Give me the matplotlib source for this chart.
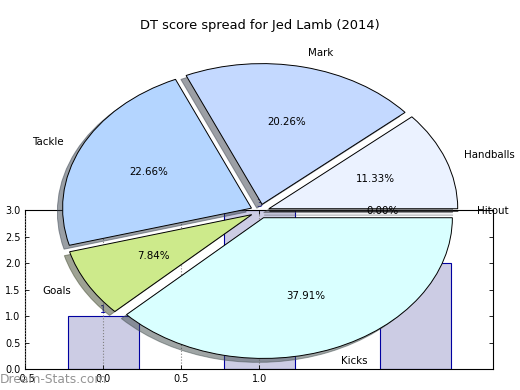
import numpy as np
import matplotlib
matplotlib.use("Agg")
import matplotlib.pyplot as plt

# pie data
slice_labels = ['Hitout', 'Handballs', 'Mark', 'Tackle', 'Goals', 'Kicks']
slice_pcts = [0.00, 11.33, 20.26, 22.66, 7.84, 37.91]
slice_colors = ['#eef4ff', '#ebf2ff', '#c4d9ff', '#b4d5ff', '#cdea8b', '#d9ffff']

# leftover bar chart underneath
bar_x = [0, 1, 2]
bar_heights = [1, 3, 2]
bar_texts = ['1', '3', '2']
xtick_vals = [-0.5, 0.0, 0.5, 1.0]
ytick_vals = [0.0, 0.5, 1.0, 1.5, 2.0, 2.5, 3.0]

title = 'DT score spread for Jed Lamb (2014)'
watermark = 'Dream-Stats.com'

fig = plt.figure(figsize=(5.2, 3.9), dpi=100)

# bar axes
ax_bar = fig.add_axes([0.049, 0.053, 0.9, 0.408])
ax_bar.bar(bar_x, bar_heights, width=0.45, align='center',
           color='#ccccE4', edgecolor='#0000a0', linewidth=0.8)
for x, h, t in zip(bar_x, bar_heights, bar_texts):
    ax_bar.text(x, h + 0.02, t, ha='center', va='bottom', color='#0000a0', fontsize=7)
ax_bar.set_xlim(-0.5, 2.5)
ax_bar.set_ylim(0, 3)
ax_bar.set_xticks(xtick_vals)
ax_bar.set_yticks(ytick_vals)
ax_bar.set_xticklabels([f"{v:.1f}" for v in xtick_vals])
ax_bar.set_yticklabels([f"{v:.1f}" for v in ytick_vals])
ax_bar.tick_params(direction='in', length=3, labelsize=7, right=True, top=True, width=0.6)
ax_bar.xaxis.grid(True, linestyle=':', color='gray', linewidth=0.8)
ax_bar.set_axisbelow(False)
for s in ax_bar.spines.values():
    s.set_linewidth(0.8)

# watermark sits under the tick labels
fig.text(0.0, 0.026, watermark, color='#888888', fontsize=8.8,
         ha='left', va='center', alpha=0.9, zorder=0)

# pie axes on top, no background
ax_pie = fig.add_axes([0.046, 0.0075, 0.908, 0.902])
ax_pie.set_facecolor('none')
wedges, texts, autotexts = ax_pie.pie(
    slice_pcts, labels=slice_labels, colors=slice_colors, explode=[0.05] * len(slice_pcts),
    autopct='%.2f%%', shadow=True, startangle=0, labeldistance=1.1, pctdistance=0.6,
    wedgeprops={'edgecolor': 'black', 'linewidth': 0.7},
    textprops={'fontsize': 7.4})
ax_pie.set_aspect('auto')
ax_pie.set_xlim(-1.25, 1.25)
ax_pie.set_ylim(-1.25, 1.25)
ax_pie.set_axis_off()

fig.text(0.5, 1 - 25 / 390, title, ha='center', va='center', fontsize=9.4)

fig.savefig('out.png', dpi=100)
